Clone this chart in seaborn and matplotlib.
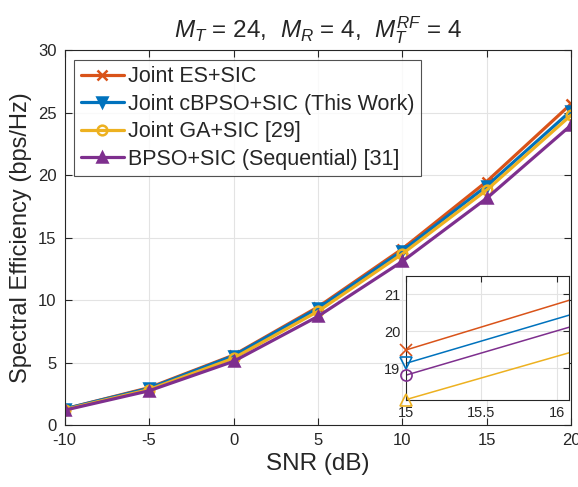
import matplotlib
matplotlib.use("Agg")
import matplotlib.pyplot as plt
import seaborn as sns
import numpy as np

snr = [-10, -5, 0, 5, 10, 15, 20]
es_sic = [1.3, 3.0, 5.6, 9.45, 14.1, 19.49, 25.7]
cbpso_sic = [1.3, 2.95, 5.55, 9.35, 13.95, 19.13, 25.15]
ga_sic = [1.25, 2.85, 5.35, 9.1, 13.7, 18.81, 24.8]
bpso_sic = [1.2, 2.75, 5.1, 8.7, 13.1, 18.15, 24.0]
labels = ["Joint ES+SIC", "Joint cBPSO+SIC (This Work)", "Joint GA+SIC [29]",
          "BPSO+SIC (Sequential) [31]"]
xticks = [-10, -5, 0, 5, 10, 15, 20]
yticks = [0, 5, 10, 15, 20, 25, 30]
inset_xticks = [15, 15.5, 16]
inset_yticks = [19, 20, 21]

sns.set_theme(style="white")
plt.rcParams['font.family'] = ['Liberation Sans', 'DejaVu Sans']
plt.rcParams['mathtext.fontset'] = 'custom'
plt.rcParams['mathtext.rm'] = 'Liberation Sans'
plt.rcParams['mathtext.it'] = 'Liberation Sans:italic'
plt.rcParams['axes.unicode_minus'] = False

c_or = "#D95319"
c_bl = "#0072BD"
c_ye = "#EDB120"
c_pu = "#7E2F8E"

fig = plt.figure(figsize=(5.78, 4.87), dpi=100)
ax = fig.add_axes([0.112, 0.127, 0.876, 0.770])

series = [es_sic, cbpso_sic, ga_sic, bpso_sic]
colors = [c_or, c_bl, c_ye, c_pu]
markers = ["x", "v", "o", "^"]
mfc = [c_or, c_bl, "none", c_pu]
for vals, col, mk, fc, lab in zip(series, colors, markers, mfc, labels):
    sns.lineplot(x=snr, y=vals, ax=ax, color=col, linewidth=2.3, marker=mk,
                 markersize=7, markerfacecolor=fc, markeredgecolor=col,
                 markeredgewidth=1.8, label=lab)

ax.set_xlim(-10, 20)
ax.set_ylim(0, 30)
ax.set_xticks(xticks)
ax.set_yticks(yticks)
ax.tick_params(direction="in", length=5, width=0.8, labelsize=12, colors="#262626",
               top=True, right=True, bottom=True, left=True, pad=6)
ax.grid(True, color="#e3e3e3", linewidth=0.8)
for s in ax.spines.values():
    s.set_color("#262626")
    s.set_linewidth(0.8)
ax.set_xlabel("SNR (dB)", fontsize=17.5, color="#262626", labelpad=3)
ax.set_ylabel("Spectral Efficiency (bps/Hz)", fontsize=17, color="#262626", labelpad=4)
ax.set_title(r"$M_T$ = 24,  $M_R$ = 4,  $M_T^{RF}$ = 4", fontsize=17.5, pad=9)

leg = ax.legend(loc="upper left", fontsize=15.5, frameon=True, fancybox=False,
                edgecolor="#262626", borderpad=0.3, labelspacing=0.3,
                handlelength=2.0, handletextpad=0.2, borderaxespad=0.45,
                bbox_to_anchor=(0.0, 1.0))
leg.get_frame().set_linewidth(0.8)

# inset
axin = fig.add_axes([0.702, 0.1786, 0.282, 0.2546])
inset_colors = [c_or, c_bl, c_pu, c_ye]
for vals, col, mk in zip(series, inset_colors, markers):
    sns.lineplot(x=snr, y=vals, ax=axin, color=col, linewidth=1.1, legend=False)
    axin.plot(snr[5], vals[5], marker=mk, markersize=8, markerfacecolor="none",
              markeredgecolor=col, markeredgewidth=1.2, linestyle="none",
              clip_on=False, zorder=5)
axin.set_xlim(15, 16.08)
axin.set_ylim(18.14, 21.49)
axin.set_xticks(inset_xticks)
axin.set_xticklabels(["15", "15.5", "16"])
axin.set_yticks(inset_yticks)
axin.tick_params(direction="in", length=4, width=0.8, labelsize=10.5, colors="#262626",
                 top=True, right=True, pad=4)
axin.grid(True, color="#e3e3e3", linewidth=0.8)
for s in axin.spines.values():
    s.set_color("#262626")
    s.set_linewidth(0.8)
axin.set_xlabel("")
axin.set_ylabel("")

fig.savefig("out.png", dpi=100)
